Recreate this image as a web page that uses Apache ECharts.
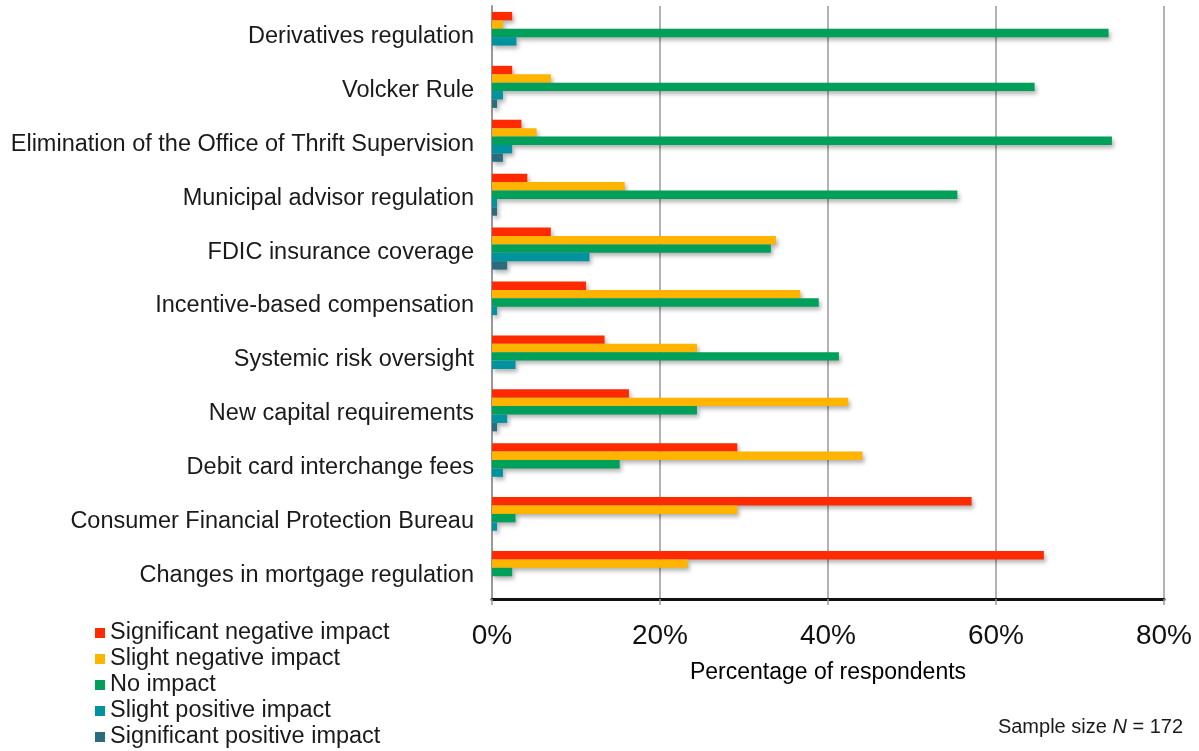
<!DOCTYPE html>
<html>
<head>
<meta charset="utf-8">
<script src="https://cdn.jsdelivr.net/npm/echarts@6/dist/echarts.min.js"></script>
<style>
  html, body { margin: 0; padding: 0; background: #fff; }
  #chart { width: 1199px; height: 751px; }
</style>
</head>
<body>
<div id="chart"></div>
<script>
// Regulatory provisions, listed top to bottom
const categories = [
  'Derivatives regulation',
  'Volcker Rule',
  'Elimination of the Office of Thrift Supervision',
  'Municipal advisor regulation',
  'FDIC insurance coverage',
  'Incentive-based compensation',
  'Systemic risk oversight',
  'New capital requirements',
  'Debit card interchange fees',
  'Consumer Financial Protection Bureau',
  'Changes in mortgage regulation'
];

// Share of respondents (%) per impact level
const sigNegative  = [2.4, 2.4, 3.5, 4.2, 7.0, 11.2, 13.4, 16.3, 29.2, 57.1, 65.7];
const slightNeg    = [1.3, 7.0, 5.3, 15.8, 33.8, 36.7, 24.4, 42.4, 44.1, 29.2, 23.3];
const noImpact     = [73.4, 64.6, 73.8, 55.4, 33.2, 38.9, 41.3, 24.4, 15.2, 2.8, 2.4];
const slightPos    = [2.9, 1.3, 2.4, 0.6, 11.6, 0.6, 2.8, 1.8, 1.3, 0.6, 0];
const sigPositive  = [0, 0.6, 1.3, 0.6, 1.8, 0, 0, 0.6, 0, 0, 0];

const seriesNames = [
  'Significant negative impact',
  'Slight negative impact',
  'No impact',
  'Slight positive impact',
  'Significant positive impact'
];
const seriesColors = ['#FF2A00', '#FFB400', '#00A05A', '#00929F', '#2A6B7C'];
const seriesData = [sigNegative, slightNeg, noImpact, slightPos, sigPositive];

const xTicks = { min: 0, max: 80, interval: 20 };

const FONT = 'Liberation Sans';

const chart = echarts.init(document.getElementById('chart'), null, { renderer: 'canvas' });

chart.setOption({
  animation: false,
  backgroundColor: '#ffffff',
  textStyle: { fontFamily: FONT },
  grid: { left: 492, right: 35, top: 6, bottom: 152, containLabel: false },
  legend: {
    orient: 'vertical',
    left: 95,
    top: 620,
    height: 140,
    padding: 0,
    itemWidth: 10,
    itemHeight: 10,
    itemGap: 0,
    icon: 'rect',
    textStyle: { fontFamily: FONT, fontSize: 23.5, color: '#1a1a1a', lineHeight: 26 },
    data: seriesNames
  },
  xAxis: {
    type: 'value',
    min: xTicks.min,
    max: xTicks.max,
    interval: xTicks.interval,
    name: 'Percentage of respondents',
    nameLocation: 'middle',
    nameGap: 62,
    nameTextStyle: { fontFamily: FONT, fontSize: 23, color: '#000', fontWeight: 500 },
    axisLine: { show: true, lineStyle: { color: '#111', width: 3 } },
    axisTick: { show: true, inside: false, length: 6, lineStyle: { color: '#999', width: 1.5 } },
    axisLabel: { formatter: '{value}%', fontFamily: FONT, fontSize: 28, color: '#111', margin: 23 },
    splitLine: { show: true, lineStyle: { color: '#999', width: 1.5 } }
  },
  yAxis: {
    type: 'category',
    inverse: true,
    data: categories,
    axisLine: { show: true, lineStyle: { color: '#999', width: 2 } },
    axisTick: { show: false },
    axisLabel: {
      margin: 18,
      formatter: v => '{c|' + v + '}',
      rich: {
        c: { fontFamily: FONT, fontSize: 23.5, color: '#1a1a1a', lineHeight: 31, verticalAlign: 'bottom' }
      }
    }
  },
  series: seriesNames.map((name, i) => ({
    name: name,
    type: 'bar',
    data: seriesData[i],
    barGap: '0%',
    barCategoryGap: '22%',
    itemStyle: {
      color: seriesColors[i],
      shadowColor: 'rgba(0,0,0,0.3)',
      shadowBlur: 4,
      shadowOffsetX: 2,
      shadowOffsetY: 3
    }
  })),
  graphic: [{
    type: 'text',
    right: 16,
    top: 717,
    style: {
      text: '{n|Sample size }{i|N}{n| = 172}',
      rich: {
        n: { fontFamily: FONT, fontSize: 20, fill: '#1a1a1a' },
        i: { fontFamily: FONT, fontSize: 20, fontStyle: 'italic', fill: '#1a1a1a' }
      }
    }
  }]
});
</script>
</body>
</html>
